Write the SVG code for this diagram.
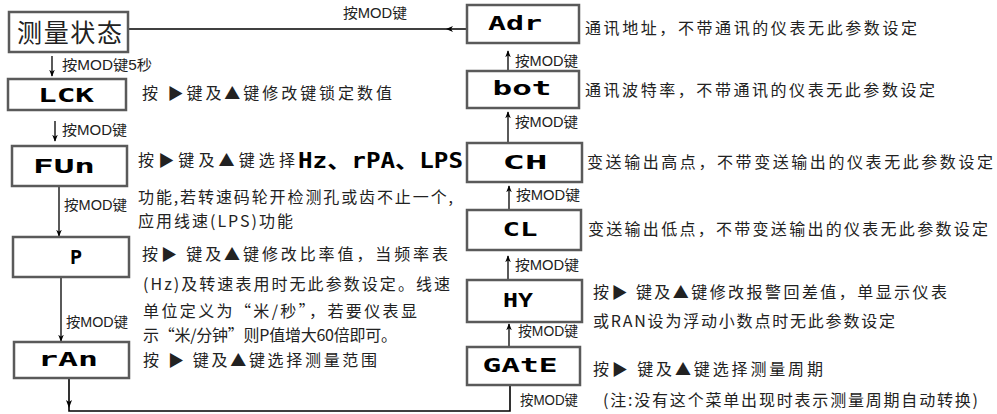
<svg xmlns="http://www.w3.org/2000/svg" width="997" height="414" viewBox="0 0 997 414">
<defs>
<marker id="ah" viewBox="0 0 10 10" refX="9" refY="5" markerWidth="7" markerHeight="7" orient="auto" markerUnits="userSpaceOnUse">
<path d="M0,1 L10,5 L0,9 L3,5 Z" fill="#000"/>
</marker>
</defs>
<style>
.box{fill:#fff;stroke:#5a5a5a;stroke-width:2.5}
.seg{font-family:"DejaVu Sans Mono",monospace;font-weight:bold;font-size:20px;fill:#000;text-anchor:middle}
.t{font-family:"Noto Sans CJK SC","DejaVu Sans",sans-serif;font-size:16px;fill:#222}
.m{font-family:"Liberation Sans","Noto Sans CJK SC",sans-serif;font-size:14px;fill:#222}
.c{fill:none;stroke:#000;stroke-width:1.6}
.ca{fill:none;stroke:#000;stroke-width:1.3;marker-end:url(#ah)}
</style>
<rect width="997" height="414" fill="#fff"/>

<g id="connectors">
<line class="c" x1="128" y1="29" x2="467" y2="29"/>
<path d="M446,29 L453,26 L451,29 L453,32 Z" fill="#000"/>
<line class="ca" x1="52" y1="56" x2="52" y2="76"/>
<line class="ca" x1="55" y1="121" x2="55" y2="141"/>
<line class="ca" x1="59" y1="186" x2="59" y2="236"/>
<line class="ca" x1="61" y1="277" x2="61" y2="341"/>
<polyline class="c" points="69,378 69,411 510,411 510,385"/>
<path d="M69,408 L66,400 L69,402 L72,400 Z" fill="#000"/>
<line class="ca" x1="508" y1="71" x2="508" y2="51"/>
<line class="ca" x1="508" y1="143" x2="508" y2="112"/>
<line class="ca" x1="509" y1="210" x2="509" y2="186"/>
<line class="ca" x1="508" y1="280" x2="508" y2="256"/>
<line class="ca" x1="509" y1="347" x2="509" y2="324"/>
</g>

<g id="node-measure">
<rect class="box" x="9" y="12" width="119" height="40"/>
<text x="17" y="42" font-family="'Noto Sans CJK SC',sans-serif" font-size="25" fill="#222" textLength="105">测量状态</text>
</g>
<text class="m" x="343" y="18" textLength="64" lengthAdjust="spacingAndGlyphs">按MOD键</text>

<g id="node-lck">
<rect class="box" x="8" y="79" width="118" height="31"/>
<text class="seg" x="66" y="102" font-size="21" textLength="56" lengthAdjust="spacingAndGlyphs">LCK</text>
<text class="t" x="142" y="99" textLength="250">按 ▶键及▲键修改键锁定数值</text>
</g>
<text class="m" x="62" y="70" textLength="90" lengthAdjust="spacingAndGlyphs">按MOD键5秒</text>
<text class="m" x="62" y="135" textLength="65" lengthAdjust="spacingAndGlyphs">按MOD键</text>

<g id="node-fun">
<rect class="box" x="12" y="146" width="115" height="40"/>
<text class="seg" x="64" y="173" textLength="62" lengthAdjust="spacingAndGlyphs">FUn</text>
<text class="t" x="138" y="166" textLength="157">按▶键及▲键选择</text>
<text x="298" y="168" font-family="'DejaVu Sans Mono','Noto Sans CJK SC',monospace" font-weight="bold" font-size="21" fill="#000" textLength="165" lengthAdjust="spacingAndGlyphs">Hz、rPA、LPS</text>
<text class="t" x="138" y="203" textLength="315">功能,若转速码轮开检测孔或齿不止一个,</text>
<text class="t" x="138" y="227" textLength="155">应用线速(LPS)功能</text>
</g>
<text class="m" x="64" y="210" textLength="63" lengthAdjust="spacingAndGlyphs">按MOD键</text>

<g id="node-p">
<rect class="box" x="13" y="237" width="116" height="40"/>
<text class="seg" x="76" y="264">P</text>
<text class="t" x="142" y="260" textLength="306">按▶ 键及▲键修改比率值，当频率表</text>
<text class="t" x="143" y="290" textLength="307">(Hz)及转速表用时无此参数设定。线速</text>
<text class="t" x="143" y="317" textLength="274">单位定义为“米/秒”，若要仪表显</text>
<text class="t" x="143" y="341" textLength="254">示“米/分钟”则P值增大60倍即可。</text>
</g>
<text class="m" x="66" y="327" textLength="62" lengthAdjust="spacingAndGlyphs">按MOD键</text>

<g id="node-ran">
<rect class="box" x="14" y="342" width="115" height="36"/>
<text class="seg" x="68" y="366" textLength="60" lengthAdjust="spacingAndGlyphs">rAn</text>
<text class="t" x="143" y="366" textLength="234">按 ▶ 键及▲键选择测量范围</text>
</g>

<g id="node-adr">
<rect class="box" x="467" y="5" width="112" height="38"/>
<text class="seg" x="515" y="30" textLength="54" lengthAdjust="spacingAndGlyphs">Adr</text>
<text class="t" x="585" y="34" textLength="332">通讯地址，不带通讯的仪表无此参数设定</text>
</g>
<text class="m" x="515" y="66" textLength="63" lengthAdjust="spacingAndGlyphs">按MOD键</text>

<g id="node-bot">
<rect class="box" x="467" y="71" width="112" height="37"/>
<text class="seg" x="522" y="95" textLength="59" lengthAdjust="spacingAndGlyphs">bot</text>
<text class="t" x="585" y="96" textLength="350">通讯波特率，不带通讯的仪表无此参数设定</text>
</g>
<text class="m" x="515" y="127" textLength="63" lengthAdjust="spacingAndGlyphs">按MOD键</text>

<g id="node-ch">
<rect class="box" x="467" y="143" width="115" height="39"/>
<text class="seg" x="525" y="169" textLength="45" lengthAdjust="spacingAndGlyphs">CH</text>
<text class="t" x="587" y="168" textLength="406">变送输出高点，不带变送输出的仪表无此参数设定</text>
</g>
<text class="m" x="516" y="200" textLength="64" lengthAdjust="spacingAndGlyphs">按MOD键</text>

<g id="node-cl">
<rect class="box" x="467" y="210" width="114" height="40"/>
<text class="seg" x="520" y="236" textLength="35" lengthAdjust="spacingAndGlyphs">CL</text>
<text class="t" x="588" y="235" textLength="400">变送输出低点，不带变送输出的仪表无此参数设定</text>
</g>
<text class="m" x="515" y="270" textLength="64" lengthAdjust="spacingAndGlyphs">按MOD键</text>

<g id="node-hy">
<rect class="box" x="467" y="280" width="115" height="42"/>
<text class="seg" x="518" y="307" textLength="30" lengthAdjust="spacingAndGlyphs">HY</text>
<text class="t" x="593" y="298" textLength="354">按▶ 键及▲键修改报警回差值，单显示仪表</text>
<text class="t" x="593" y="327" textLength="302">或RAN设为浮动小数点时无此参数设定</text>
</g>
<text class="m" x="518" y="336" textLength="60" lengthAdjust="spacingAndGlyphs">按MOD键</text>

<g id="node-gate">
<rect class="box" x="467" y="347" width="113" height="38"/>
<text class="seg" x="520" y="372" textLength="75" lengthAdjust="spacingAndGlyphs">GAtE</text>
<text class="t" x="593" y="375" textLength="230">按▶ 键及▲键选择测量周期</text>
</g>
<text class="m" x="520" y="405" textLength="58" lengthAdjust="spacingAndGlyphs">按MOD键</text>
<text class="t" x="603" y="406" textLength="375">(注:没有这个菜单出现时表示测量周期自动转换)</text>
</svg>
